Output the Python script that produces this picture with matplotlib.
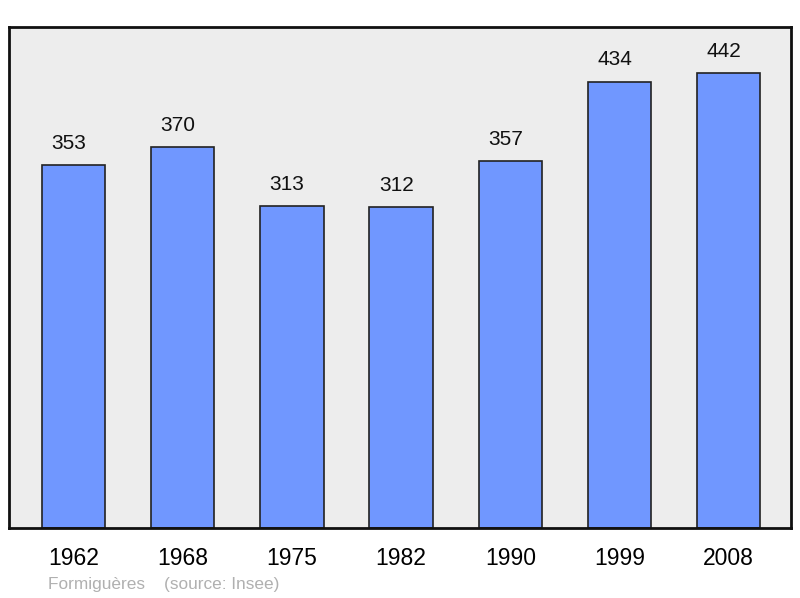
import matplotlib.pyplot as plt

plt.rcParams['font.family'] = ['Liberation Sans', 'DejaVu Sans']

# ---- data ----
years = ["1962", "1968", "1975", "1982", "1990", "1999", "2008"]
pop = [353, 370, 313, 312, 357, 434, 442]

fig = plt.figure(figsize=(8, 5.98), dpi=100)
ax = fig.add_axes([9/800, 70/598, 782/800, 501/598])
ax.set_facecolor("#ededed")

x = list(range(len(years)))
ax.bar(x, pop, width=0.58, color="#7097ff", edgecolor="#222222",
       linewidth=1.2, zorder=2)

for xi, v in zip(x, pop):
    ax.text(xi - 0.045, v + 21, str(v), ha="center", va="center",
            fontsize=15, color="#111111")

ax.set_xlim(-0.59, 6.57)
ax.set_ylim(0, 487)
ax.set_xticks(x)
ax.set_xticklabels(years, fontsize=16.5)
ax.tick_params(axis="x", length=0, pad=14)
ax.set_yticks([])
for s in ax.spines.values():
    s.set_linewidth(2)
    s.set_color("#111111")

fig.text(48/800, 1 - 584/598, "Formiguères    (source: Insee)",
         fontsize=12.4, color="#b0b0b0", va="center")

fig.savefig("out.png", dpi=100)
